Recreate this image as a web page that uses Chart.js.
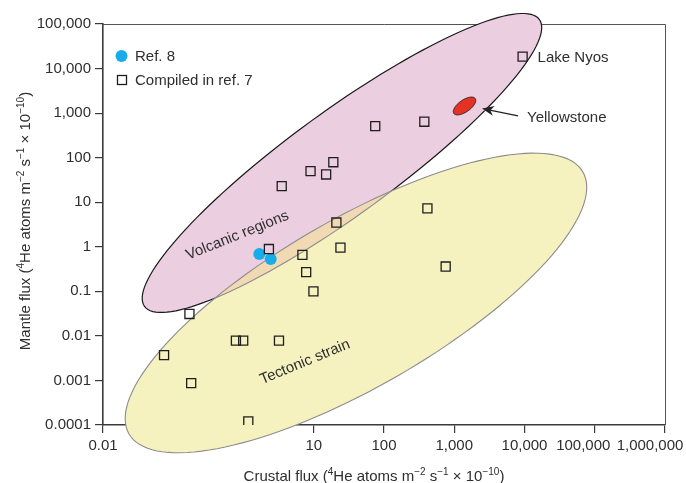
<!DOCTYPE html>
<html>
<head>
<meta charset="utf-8">
<script src="https://cdn.jsdelivr.net/npm/chart.js@4"></script>
<style>
  html, body { margin: 0; padding: 0; background: #fff; }
  canvas { display: block; }
</style>
</head>
<body>
<canvas id="fluxChart" width="686" height="483"></canvas>
<script>
// ticks
const xTicks = [0.01, 10, 100, 1000, 10000, 100000, 1000000];
const xTickLabels = ['0.01', '10', '100', '1,000', '10,000', '100,000', '1,000,000'];
const yTicks = [0.0001, 0.001, 0.01, 0.1, 1, 10, 100, 1000, 10000, 100000];
const yTickLabels = ['0.0001', '0.001', '0.01', '0.1', '1', '10', '100', '1,000', '10,000', '100,000'];

// Ref. 8 (crustal flux, mantle flux)
const ref8Crustal = [1.68, 2.44];
const ref8Mantle = [0.69, 0.53];

// Compiled in ref. 7 (last one is Lake Nyos)
const ref7Crustal = [0.074, 0.17, 0.18, 0.78, 0.99, 1.17, 2.3, 3.2, 3.5, 6.9, 7.8, 9.0, 9.9, 15, 19, 21, 24, 75, 375, 415, 755, 9400];
const ref7Mantle = [0.0037, 0.031, 0.00087, 0.0078, 0.0078, 0.00012, 0.89, 0.0078, 23, 0.66, 0.27, 50, 0.10, 42, 79, 3.5, 0.96, 510, 640, 7.3, 0.36, 18500];

// regions: centre in flux units, half axes in decades of (crustal, mantle)
const volcanic = { cx: 25.2, cy: 76, major: [2.81, 3.22], minor: [0.435, -0.945] };
const tectonic = { cx: 39.9, cy: 0.0548, major: [3.23, 2.94], minor: [0.598, -1.632] };
const yellowstone = { cx: 1400, cy: 1445, major: [0.152, 0.167], minor: [0.049, -0.110] };

const volcanicLabel = { x: 0.82, y: 1.79, text: 'Volcanic regions' };
const tectonicLabel = { x: 7.5, y: 0.0026, text: 'Tectonic strain' };

const xTitle = ['Crustal flux (', ['4'], 'He atoms m', ['\u22122'], ' s', ['\u22121'], ' \u00d7 10', ['\u221210'], ')'];
const yTitle = ['Mantle flux (', ['4'], 'He atoms m', ['\u22122'], ' s', ['\u22121'], ' \u00d7 10', ['\u221210'], ')'];

const fontFamily = '"Liberation Sans", Arial, sans-serif';
const mainFont = '15px ' + fontFamily;
const supFont = '10px ' + fontFamily;
const textColor = '#2e2e2e';

function traceEllipse(ctx, chart, e) {
    const xs = chart.scales.x, ys = chart.scales.y;
    const lx = Math.log10(e.cx), ly = Math.log10(e.cy);
    for (let k = 0; k <= 144; k++) {
        const t = k / 144 * Math.PI * 2;
        const c = Math.cos(t), s = Math.sin(t);
        const px = xs.getPixelForValue(Math.pow(10, lx + c * e.major[0] + s * e.minor[0]));
        const py = ys.getPixelForValue(Math.pow(10, ly + c * e.major[1] + s * e.minor[1]));
        if (k === 0) ctx.moveTo(px, py); else ctx.lineTo(px, py);
    }
    ctx.closePath();
}

function drawRich(ctx, parts, x, y, align) {
    // plain strings are normal text, one-item arrays are superscripts
    const pieces = parts.map(p => Array.isArray(p) ? { t: p[0], sup: true } : { t: p, sup: false });
    let total = 0;
    pieces.forEach(p => {
        ctx.font = p.sup ? supFont : mainFont;
        p.w = ctx.measureText(p.t).width;
        total += p.w;
    });
    let cx = align === 'center' ? x - total / 2 : x;
    ctx.textAlign = 'left';
    pieces.forEach(p => {
        ctx.font = p.sup ? supFont : mainFont;
        ctx.fillText(p.t, cx, p.sup ? y - 6 : y);
        cx += p.w;
    });
}

const regionsPlugin = {
    id: 'regions',
    beforeDatasetsDraw(chart) {
        const ctx = chart.ctx;
        const a = chart.chartArea;
        ctx.save();

        // thin frame top and right
        ctx.strokeStyle = '#555';
        ctx.lineWidth = 1;
        ctx.beginPath();
        ctx.moveTo(a.left, a.top + 0.5);
        ctx.lineTo(a.right + 0.5, a.top + 0.5);
        ctx.lineTo(a.right + 0.5, a.bottom);
        ctx.stroke();

        // fills
        ctx.beginPath(); traceEllipse(ctx, chart, volcanic);
        ctx.fillStyle = '#eccee1'; ctx.fill();
        ctx.beginPath(); traceEllipse(ctx, chart, tectonic);
        ctx.fillStyle = '#f5f2c0'; ctx.fill();

        // overlap
        ctx.save();
        ctx.beginPath(); traceEllipse(ctx, chart, volcanic); ctx.clip();
        ctx.beginPath(); traceEllipse(ctx, chart, tectonic);
        ctx.fillStyle = '#f1d9b4'; ctx.fill();
        ctx.restore();

        // volcanic outline: black outside tectonic, grey inside
        ctx.save();
        ctx.beginPath();
        ctx.rect(0, 0, chart.width, chart.height);
        traceEllipse(ctx, chart, tectonic);
        ctx.clip('evenodd');
        ctx.beginPath(); traceEllipse(ctx, chart, volcanic);
        ctx.strokeStyle = '#1a1a1a'; ctx.lineWidth = 1.2; ctx.stroke();
        ctx.restore();

        ctx.save();
        ctx.beginPath(); traceEllipse(ctx, chart, tectonic); ctx.clip();
        ctx.beginPath(); traceEllipse(ctx, chart, volcanic);
        ctx.strokeStyle = '#8c8c8c'; ctx.lineWidth = 1.1; ctx.stroke();
        ctx.restore();

        ctx.beginPath(); traceEllipse(ctx, chart, tectonic);
        ctx.strokeStyle = '#8c8c8c'; ctx.lineWidth = 1.1; ctx.stroke();

        // Yellowstone
        ctx.beginPath(); traceEllipse(ctx, chart, yellowstone);
        ctx.fillStyle = '#e63223'; ctx.fill();
        ctx.strokeStyle = '#222'; ctx.lineWidth = 1; ctx.stroke();

        ctx.restore();
    },
    afterDraw(chart) {
        const ctx = chart.ctx;
        const a = chart.chartArea;
        const xs = chart.scales.x, ys = chart.scales.y;
        ctx.save();
        ctx.fillStyle = textColor;

        // x tick labels, the last two pulled left as in the print
        const nudge = { 100000: -11.5, 1000000: -15 };
        ctx.font = mainFont;
        ctx.textAlign = 'center';
        ctx.textBaseline = 'alphabetic';
        xTicks.forEach((v, i) => {
            ctx.fillText(xTickLabels[i], xs.getPixelForValue(v) + (nudge[v] || 0), a.bottom + 24.5);
        });

        // axis titles
        ctx.textBaseline = 'alphabetic';
        drawRich(ctx, xTitle, (a.left + a.right) / 2 - 10, 481, 'center');
        ctx.save();
        ctx.translate(29.5, (a.top + a.bottom) / 2 - 3.5);
        ctx.rotate(-Math.PI / 2);
        drawRich(ctx, yTitle, 0, 0, 'center');
        ctx.restore();

        // legend
        const ds = chart.data.datasets;
        ctx.textBaseline = 'middle';
        ctx.textAlign = 'left';
        ctx.font = mainFont;
        ctx.beginPath();
        ctx.arc(a.left + 18.5, a.top + 32, 6, 0, Math.PI * 2);
        ctx.fillStyle = ds[0].backgroundColor; ctx.fill();
        ctx.fillStyle = textColor;
        ctx.fillText(ds[0].label, a.left + 32, a.top + 33);
        ctx.strokeStyle = ds[1].borderColor; ctx.lineWidth = ds[1].borderWidth;
        ctx.strokeRect(a.left + 14.5, a.top + 51.5, 9, 9);
        ctx.fillText(ds[1].label, a.left + 32, a.top + 56.5);

        // Lake Nyos
        const n = ref7Crustal.length - 1;
        ctx.fillText('Lake Nyos', xs.getPixelForValue(ref7Crustal[n]) + 15, ys.getPixelForValue(ref7Mantle[n]) + 1);

        // Yellowstone arrow and label
        const yx = xs.getPixelForValue(yellowstone.cx), yy = ys.getPixelForValue(yellowstone.cy);
        const tipX = yx + 17.5, tipY = yy + 2.5, tailX = yx + 53.5, tailY = yy + 10;
        const ang = Math.atan2(tipY - tailY, tipX - tailX);
        const cs = Math.cos(ang), sn = Math.sin(ang);
        // white halo round the tip, as in the print
        ctx.strokeStyle = '#fff'; ctx.lineWidth = 3;
        ctx.beginPath(); ctx.moveTo(tipX - 14 * cs, tipY - 14 * sn); ctx.lineTo(tipX - 2 * cs, tipY - 2 * sn); ctx.stroke();
        ctx.strokeStyle = '#222'; ctx.lineWidth = 1.3;
        ctx.beginPath(); ctx.moveTo(tailX, tailY); ctx.lineTo(tipX - 8 * cs, tipY - 8 * sn); ctx.stroke();
        ctx.fillStyle = '#222';
        ctx.beginPath();
        ctx.moveTo(tipX, tipY);
        ctx.lineTo(tipX - 12 * cs + 5 * sn, tipY - 12 * sn - 5 * cs);
        ctx.lineTo(tipX - 8.5 * cs, tipY - 8.5 * sn);
        ctx.lineTo(tipX - 12 * cs - 5 * sn, tipY - 12 * sn + 5 * cs);
        ctx.closePath(); ctx.fill();
        ctx.fillStyle = textColor;
        ctx.fillText('Yellowstone', yx + 62.5, yy + 12);

        // region labels
        [[volcanicLabel, -22], [tectonicLabel, -22.5]].forEach(([lab, deg]) => {
            ctx.save();
            ctx.translate(xs.getPixelForValue(lab.x), ys.getPixelForValue(lab.y));
            ctx.rotate(deg * Math.PI / 180);
            ctx.textAlign = 'center';
            ctx.fillText(lab.text, 0, 0);
            ctx.restore();
        });

        ctx.restore();
    }
};

const axisCommon = {
    type: 'logarithmic',
    z: 1,
    border: { display: true, color: '#3a3a3a', width: 1.6 },
    grid: { display: true, drawOnChartArea: false, drawTicks: true, tickLength: 8, color: '#3a3a3a', lineWidth: 1.2 },
    title: { display: false }
};

new Chart(document.getElementById('fluxChart'), {
    type: 'scatter',
    data: {
        datasets: [
            {
                label: 'Ref. 8',
                data: ref8Crustal.map((x, i) => ({ x, y: ref8Mantle[i] })),
                pointStyle: 'circle',
                pointRadius: 6,
                backgroundColor: '#17ade8',
                borderWidth: 0,
                order: 2
            },
            {
                label: 'Compiled in ref. 7',
                data: ref7Crustal.map((x, i) => ({ x, y: ref7Mantle[i] })),
                pointStyle: 'rect',
                pointRadius: 6.4,
                backgroundColor: 'rgba(0,0,0,0)',
                borderColor: '#1e1e1e',
                borderWidth: 1.3,
                order: 1
            }
        ]
    },
    options: {
        responsive: false,
        animation: false,
        events: [],
        layout: { padding: { left: 0, top: 24, right: 21, bottom: 0 } },
        plugins: { legend: { display: false }, tooltip: { enabled: false } },
        scales: {
            x: {
                ...axisCommon,
                position: 'bottom',
                min: 0.01,
                max: 1000000,
                ticks: { display: false },
                afterBuildTicks: s => { s.ticks = xTicks.map(v => ({ value: v })); },
                afterFit: s => { s.height = 58; }
            },
            y: {
                ...axisCommon,
                position: 'left',
                min: 0.0001,
                max: 100000,
                ticks: {
                    padding: 4,
                    color: textColor,
                    font: { family: fontFamily, size: 15 },
                    callback: (v, i) => yTickLabels[i]
                },
                afterBuildTicks: s => { s.ticks = yTicks.map(v => ({ value: v })); },
                afterFit: s => { s.width = 103; }
            }
        }
    },
    plugins: [regionsPlugin]
});
</script>
</body>
</html>
